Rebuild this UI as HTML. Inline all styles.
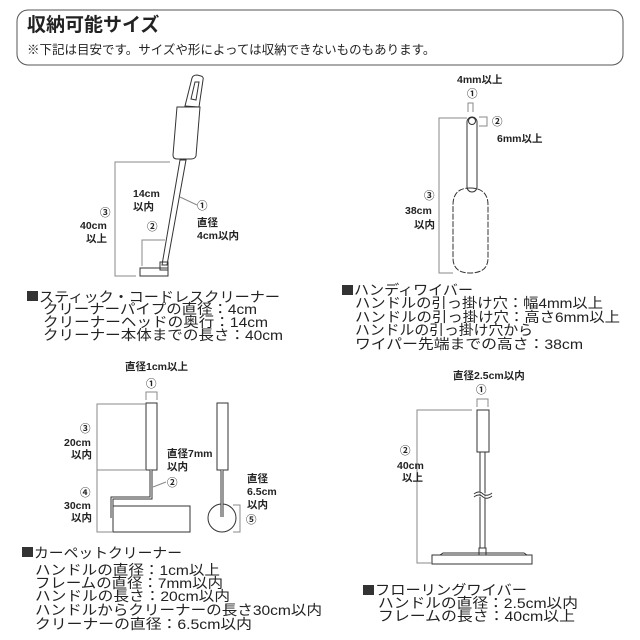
<!DOCTYPE html>
<html><head><meta charset="utf-8"><style>
html,body{margin:0;padding:0;background:#fff;}
svg{display:block;}
.t{font-family:"Liberation Sans","Noto Sans CJK JP",sans-serif;fill:#222;}
.cap{font-size:14px;}
.lb{font-size:10.5px;font-weight:bold;}
.ln{fill:none;stroke:#333;stroke-width:1;}
.gl{fill:none;stroke:#888;stroke-width:1;}
</style></head><body>
<svg width="640" height="640" viewBox="0 0 640 640" xmlns="http://www.w3.org/2000/svg">
<rect x="17" y="10" width="606" height="55" rx="11" fill="#fff" stroke="#555" stroke-width="1"/>
<text class="t" x="27" y="31" font-size="19" font-weight="bold">収納可能サイズ</text>
<text class="t" x="27" y="54" font-size="12.5">※下記は目安です。サイズや形によっては収納できないものもあります。</text>

<!-- Stick cleaner -->
<path class="ln" d="M185 106 L192 78 Q193 75 197 75 L201 76 Q204 77 203 80 L199 107 Z" fill="#fff"/>
<path class="ln" d="M191 99 L195 82 L199 82 L196 100 Z" fill="#fff"/>
<path class="ln" d="M177 107 L200 107 L196 156 Q195 159 191 159 L177 159 Q173 159 173 155 Z" fill="#fff"/>
<path class="ln" d="M180 160 L186 160 L167 265 L162 265 Z" fill="#fff"/>
<path class="ln" d="M160 262 L168 262 L168 270 L160 270 Z" fill="#fff"/>
<rect class="ln" x="140" y="268" width="28" height="8" fill="#fff"/>
<path class="gl" d="M170 162 H115 V276 H136"/>
<path class="gl" d="M142 266 V240 H165"/>
<path class="gl" d="M180 197 L197 205"/>
<text class="t lb" x="133" y="197">14cm</text>
<text class="t lb" x="133" y="210">以内</text>
<text class="t lb" x="147" y="230">②</text>
<text class="t lb" x="100" y="216">③</text>
<text class="t lb" x="80" y="229">40cm</text>
<text class="t lb" x="86" y="242">以上</text>
<text class="t lb" x="197" y="209">①</text>
<text class="t lb" x="197" y="226">直径</text>
<text class="t lb" x="197" y="239">4cm以内</text>
<rect x="27" y="291" width="11" height="10" fill="#333"/>
<text class="t cap" x="39" y="302" textLength="241" lengthAdjust="spacingAndGlyphs">スティック・コードレスクリーナー</text>
<text class="t cap" x="43" y="314" textLength="214" lengthAdjust="spacingAndGlyphs">クリーナーパイプの直径：4cm</text>
<text class="t cap" x="43" y="327" textLength="225" lengthAdjust="spacingAndGlyphs">クリーナーヘッドの奥行：14cm</text>
<text class="t cap" x="43" y="340" textLength="240" lengthAdjust="spacingAndGlyphs">クリーナー本体までの長さ：40cm</text>

<!-- Handy wiper -->
<text class="t lb" x="457" y="83">4mm以上</text>
<text class="t lb" x="467" y="97">①</text>
<path class="gl" d="M468 112 V103 H473 V112"/>
<rect class="ln" x="467" y="117" width="10" height="75" rx="5" fill="#fff"/>
<circle class="ln" cx="472" cy="121" r="3.5"/>
<path class="ln" d="M470 188 Q488 188 488 205 L488 258 Q488 273 470 273 Q453 273 453 258 L453 205 Q453 188 470 188 Z" fill="#fff" stroke-dasharray="6 1.5"/>
<path class="gl" d="M479 117 H487 V126 H479"/>
<text class="t lb" x="492" y="125">②</text>
<text class="t lb" x="497" y="142">6mm以上</text>
<path class="gl" d="M467 118 H439 V273 H453"/>
<text class="t lb" x="424" y="199">③</text>
<text class="t lb" x="405" y="214">38cm</text>
<text class="t lb" x="414" y="228">以内</text>
<rect x="342" y="285" width="11" height="10" fill="#333"/>
<text class="t cap" x="354" y="295" textLength="119" lengthAdjust="spacingAndGlyphs">ハンディワイバー</text>
<text class="t cap" x="355" y="308" textLength="248" lengthAdjust="spacingAndGlyphs">ハンドルの引っ掛け穴：幅4mm以上</text>
<text class="t cap" x="355" y="322" textLength="265" lengthAdjust="spacingAndGlyphs">ハンドルの引っ掛け穴：高さ6mm以上</text>
<text class="t cap" x="355" y="335" textLength="178" lengthAdjust="spacingAndGlyphs">ハンドルの引っ掛け穴から</text>
<text class="t cap" x="355" y="349" textLength="228" lengthAdjust="spacingAndGlyphs">ワイパー先端までの高さ：38cm</text>

<!-- Carpet cleaner -->
<text class="t lb" x="125" y="370">直径1cm以上</text>
<text class="t lb" x="146" y="387">①</text>
<path class="gl" d="M146 400 V392 H157 V400"/>
<rect class="ln" x="146" y="403" width="11" height="67" fill="#fff"/>
<path d="M151 470 V498 H112 V518" fill="none" stroke="#333" stroke-width="3"/>
<path d="M151 470 V498 H112 V518" fill="none" stroke="#fff" stroke-width="1"/>
<rect class="ln" x="113" y="506" width="77" height="26" fill="#fff"/>
<path class="gl" d="M146 404 H97 V532 H113 M97 470 H146"/>
<text class="t lb" x="80" y="432">③</text>
<text class="t lb" x="64" y="446">20cm</text>
<text class="t lb" x="71" y="458">以内</text>
<text class="t lb" x="80" y="496">④</text>
<text class="t lb" x="64" y="509">30cm</text>
<text class="t lb" x="71" y="521">以内</text>
<text class="t lb" x="167" y="457">直径7mm</text>
<text class="t lb" x="167" y="470">以内</text>
<path class="gl" d="M153 487 L166 482"/>
<text class="t lb" x="167" y="486">②</text>
<rect class="ln" x="217" y="403" width="11" height="67" fill="#fff"/>
<path d="M222 470 V517" stroke="#333" stroke-width="3"/>
<circle class="ln" cx="222" cy="518" r="14"/>
<path d="M222 470 V517" stroke="#fff" stroke-width="1"/>
<path class="gl" d="M233 505 H240 V532 H233"/>
<text class="t lb" x="246" y="523">⑤</text>
<text class="t lb" x="247" y="482">直径</text>
<text class="t lb" x="247" y="495">6.5cm</text>
<text class="t lb" x="247" y="508">以内</text>
<rect x="22" y="547" width="11" height="10" fill="#333"/>
<text class="t cap" x="34" y="558" textLength="148" lengthAdjust="spacingAndGlyphs">カーペットクリーナー</text>
<text class="t cap" x="35" y="575" textLength="185" lengthAdjust="spacingAndGlyphs">ハンドルの直径：1cm以上</text>
<text class="t cap" x="35" y="588" textLength="188" lengthAdjust="spacingAndGlyphs">フレームの直径：7mm以内</text>
<text class="t cap" x="35" y="601" textLength="195" lengthAdjust="spacingAndGlyphs">ハンドルの長さ：20cm以内</text>
<text class="t cap" x="35" y="615" textLength="287" lengthAdjust="spacingAndGlyphs">ハンドルからクリーナーの長さ30cm以内</text>
<text class="t cap" x="35" y="629" textLength="217" lengthAdjust="spacingAndGlyphs">クリーナーの直径：6.5cm以内</text>

<!-- Flooring wiper -->
<text class="t lb" x="453" y="379">直径2.5cm以内</text>
<text class="t lb" x="476" y="393">①</text>
<path class="gl" d="M477 407 V399 H488 V407"/>
<rect class="ln" x="477" y="410" width="12" height="42" fill="#fff"/>
<rect class="ln" x="480" y="452" width="5" height="96" fill="#fff"/>
<path d="M474 494 Q479 490 483 494 Q487 497 492 493 M474 497 Q479 493 483 497 Q487 500 492 496" fill="#fff" stroke="#333" stroke-width="1"/>
<rect class="ln" x="479" y="548" width="7" height="7" fill="#fff"/>
<path class="ln" d="M440 555 L443 553 H524 L527 555" fill="#fff"/>
<rect class="ln" x="432" y="555" width="100" height="9" fill="#fff"/>
<path class="gl" d="M472 410 H417 V563 H432"/>
<text class="t lb" x="400" y="454">②</text>
<text class="t lb" x="397" y="469">40cm</text>
<text class="t lb" x="402" y="481">以上</text>
<rect x="363" y="585" width="11" height="10" fill="#333"/>
<text class="t cap" x="375" y="595" textLength="152" lengthAdjust="spacingAndGlyphs">フローリングワイバー</text>
<text class="t cap" x="378" y="608" textLength="200" lengthAdjust="spacingAndGlyphs">ハンドルの直径：2.5cm以内</text>
<text class="t cap" x="378" y="621" textLength="197" lengthAdjust="spacingAndGlyphs">フレームの長さ：40cm以上</text>
</svg>
</body></html>
